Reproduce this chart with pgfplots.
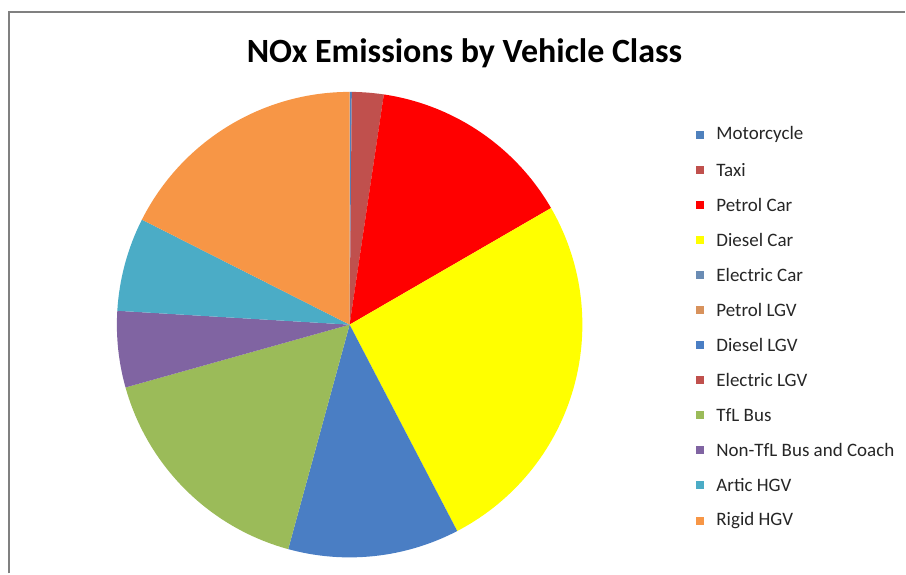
\documentclass[border=0pt]{standalone}
\usepackage{pgfplots}
\pgfplotsset{compat=1.18}
\usepackage{pgfplotstable}
\usepackage{fontspec}
\setmainfont{Carlito}

\definecolor{cMoto}{HTML}{4F81BD}
\definecolor{cTaxi}{HTML}{C0504D}
\definecolor{cPetrol}{HTML}{FF0000}
\definecolor{cDiesel}{HTML}{FFFF00}
\definecolor{cECar}{HTML}{6A8CB4}
\definecolor{cPLGV}{HTML}{D8925C}
\definecolor{cDLGV}{HTML}{4A7EC4}
\definecolor{cELGV}{HTML}{C0504D}
\definecolor{cTfL}{HTML}{9BBB59}
\definecolor{cNonTfL}{HTML}{8064A2}
\definecolor{cArtic}{HTML}{4BACC6}
\definecolor{cRigid}{HTML}{F79646}
\definecolor{frame}{HTML}{808080}

\pgfplotstableread[col sep=comma]{
name,value,col
Motorcycle,0.15,cMoto
Taxi,2.2,cTaxi
Petrol Car,14.3,cPetrol
Diesel Car,25.7,cDiesel
Electric Car,0,cECar
Petrol LGV,0,cPLGV
Diesel LGV,11.9,cDLGV
Electric LGV,0,cELGV
TfL Bus,16.4,cTfL
Non-TfL Bus and Coach,5.3,cNonTfL
Artic HGV,6.5,cArtic
Rigid HGV,17.55,cRigid
}\datatable

\begin{document}
\begin{tikzpicture}
\begin{axis}[
  width=906pt, height=574pt, scale only axis,
  xmin=0, xmax=906, ymin=0, ymax=574, y dir=reverse,
  axis lines=none, clip=false,
]
\path (axis cs:0,0) rectangle (axis cs:906,574);
\draw[frame, line width=2pt] (axis cs:9,574) -- (axis cs:9,12) -- (axis cs:906,12);
\node[font=\bfseries\fontsize{34}{40}\selectfont, text=black] at (axis cs:465,53) {NOx Emissions by Vehicle Class};
\def\cum{0}
\pgfplotsforeachungrouped \i in {0,...,11}{%
  \pgfplotstablegetelem{\i}{value}\of\datatable \let\val\pgfplotsretval
  \pgfplotstablegetelem{\i}{col}\of\datatable \let\col\pgfplotsretval
  \pgfplotstablegetelem{\i}{name}\of\datatable \let\nm\pgfplotsretval
  \pgfmathsetmacro\s{90-3.6*\cum}
  \pgfmathsetmacro\e{\s-3.6*\val}
  \pgfmathsetmacro\ly{135+35.1*\i}
  \pgfmathparse{\val>0}
  \ifnum\pgfmathresult=1
    \edef\temp{\noexpand\fill[\col] (axis cs:350,325) -- ++(\s:233pt) arc[start angle=\s, end angle=\e, radius=233pt] -- cycle;}%
    \temp
  \fi
  \edef\temp{\noexpand\fill[\col] (axis cs:697,\ly-4) rectangle (axis cs:705,\ly+4);
    \noexpand\node[anchor=west, inner sep=0pt, font=\noexpand\fontsize{19}{23}\noexpand\selectfont, text=black!85] at (axis cs:717,\ly) {\nm};}%
  \temp
  \pgfmathsetmacro\cum{\cum+\val}%
}
\end{axis}
\end{tikzpicture}
\end{document}
